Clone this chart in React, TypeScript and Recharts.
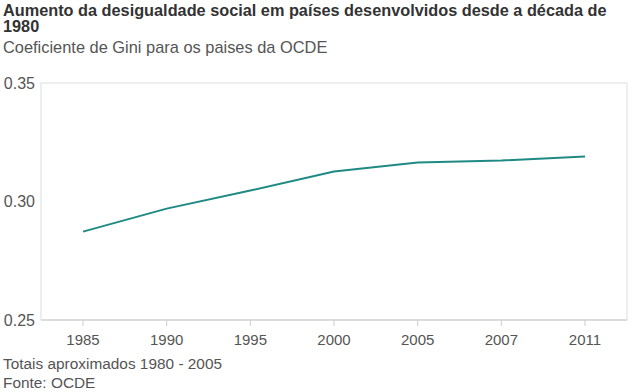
import React from "react";
import { LineChart, Line, XAxis, YAxis, CartesianGrid } from "recharts";

const years = ["1985", "1990", "1995", "2000", "2005", "2007", "2011"];
const gini = [0.2873, 0.2970, 0.3046, 0.3127, 0.3165, 0.3173, 0.3190];
const yTicks = [0.25, 0.3, 0.35];

const title = "Aumento da desigualdade social em países desenvolvidos desde a década de 1980";
const subtitle = "Coeficiente de Gini para os paises da OCDE";
const note = "Totais aproximados 1980 - 2005";
const source = "Fonte: OCDE";

const data = years.map((y, i) => ({ year: y, value: gini[i] }));

const FONT = '"Liberation Sans", Arial, Helvetica, sans-serif';

export default function App() {
  return (
    <div
      style={{
        position: "absolute",
        left: 0,
        top: 0,
        width: 640,
        height: 392,
        background: "#fff",
        fontFamily: FONT,
        overflow: "hidden",
      }}
    >
      <div style={{ position: "absolute", left: 0, top: 0 }}>
        <LineChart
          width={640}
          height={392}
          data={data}
          margin={{ top: 83, right: 0, bottom: 42, left: 0 }}
        >
          <CartesianGrid vertical={false} stroke="#dddddd" />
          <XAxis
            dataKey="year"
            height={30}
            stroke="#cccccc"
            padding={{ left: 42, right: 42 }}
            tickSize={6}
            tickMargin={8}
            tick={{ fill: "#555555", fontSize: 15, fontFamily: FONT }}
          />
          <YAxis
            yAxisId="left"
            width={41}
            domain={[0.25, 0.35]}
            ticks={yTicks}
            tickFormatter={(v: number) => v.toFixed(2)}
            stroke="#dddddd"
            tickLine={false}
            tickSize={3}
            tickMargin={3}
            tick={{ fill: "#555555", fontSize: 16, fontFamily: FONT }}
          />
          <YAxis
            yAxisId="right"
            orientation="right"
            width={13}
            domain={[0.25, 0.35]}
            tick={false}
            tickLine={false}
            stroke="#dddddd"
          />
          <Line
            yAxisId="left"
            type="linear"
            dataKey="value"
            stroke="#1f8a84"
            strokeWidth={2}
            dot={false}
            isAnimationActive={false}
          />
        </LineChart>
      </div>
      <div
        style={{
          position: "absolute",
          left: 3,
          top: 2,
          width: 630,
          fontSize: 16.3,
          fontWeight: "bold",
          lineHeight: "16px",
          color: "#333333",
        }}
      >
        {title}
      </div>
      <div
        style={{
          position: "absolute",
          left: 3,
          top: 38,
          fontSize: 16.4,
          lineHeight: "18px",
          color: "#555555",
        }}
      >
        {subtitle}
      </div>
      <div
        style={{
          position: "absolute",
          left: 3,
          top: 354,
          fontSize: 15.4,
          lineHeight: "19px",
          color: "#555555",
        }}
      >
        <div>{note}</div>
        <div>{source}</div>
      </div>
    </div>
  );
}
